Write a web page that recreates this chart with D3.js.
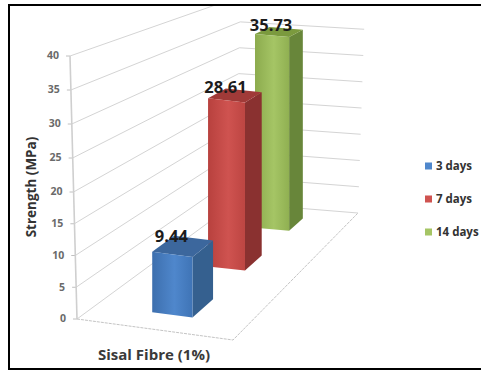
<!DOCTYPE html>
<html>
<head>
<meta charset="utf-8">
<style>
html,body{margin:0;padding:0;background:#fff}
svg{display:block;font-family:"Open Sans",Lato,sans-serif}
</style>
<script src="https://cdn.jsdelivr.net/npm/d3@7"></script>
</head>
<body>
<svg id="chart" width="481" height="372"></svg>
<script>
// Chart values
const seriesNames = ["3 days", "7 days", "14 days"];
const seriesValues = [9.44, 28.61, 35.73];
const categoryLabel = "Sisal Fibre (1%)";
const valueTitle = "Strength (MPa)";
const valueTicks = [0, 5, 10, 15, 20, 25, 30, 35, 40];

// Series colours: front face, side face, top face
const frontColors = [["#3d6fae", "#4f87cc", "#3f74b6"], ["#b8413e", "#cf5350", "#bd4542"], ["#8cab4e", "#a5c565", "#90b052"]];
const sideColors = ["#35608f", "#8a3130", "#68863a"];
const topColors = ["#3c679d", "#a03a38", "#7b9a3e"];

const svg = d3.select("#chart");

// Floor of the 3D box: u runs along the front edge, d runs into the depth
const floorX = (u, d) => d3.scaleLinear().domain([0, 1]).range([
  d3.scaleLinear().domain([0, 1]).range([77, 235])(d),
  d3.scaleLinear().domain([0, 1]).range([233, 358])(d)])(u);
const floorY = (u, d) => d3.scaleLinear().domain([0, 1]).range([
  d3.scaleLinear().domain([0, 1]).range([319, 203])(d),
  d3.scaleLinear().domain([0, 1]).range([340, 213])(d)])(u);
const unitHeight = d3.scaleLinear().domain([0, 1]).range([6.575, 5.18]);

// Wall scales: front-left edge, back corner and back-right edge
const leftY = d3.scaleLinear().domain([0, 20, 40]).range([319, 192, 56]);
const leftX = d3.scaleLinear().domain([0, 40]).range([77, 70]);
const cornerY = d3.scaleLinear().domain([0, 40]).range([203, -4]);
const cornerX = d3.scaleLinear().domain([0, 40]).range([235, 241]);
const rightY = d3.scaleLinear().domain([0, 40]).range([213, 3]);
const rightX = d3.scaleLinear().domain([0, 40]).range([358, 365]);

// Bar footprint in floor coordinates
const barU = [0.37, 0.635];
const depthStart = d3.scaleOrdinal().domain(seriesNames).range([0.12, 0.503, 0.825]);
const depthEnd = d3.scaleOrdinal().domain(seriesNames).range([0.27, 0.625, 0.925]);

const defs = svg.append("defs");
defs.append("clipPath").attr("id", "plot").append("rect")
  .attr("x", 9).attr("y", 6).attr("width", 472).attr("height", 362);

seriesNames.forEach((name, i) => {
  const g = defs.append("linearGradient").attr("id", "front" + i);
  frontColors[i].forEach((c, k) => g.append("stop").attr("offset", [0, 0.55, 1][k]).attr("stop-color", c));
});

// Walls and floor
const grid = svg.append("g").attr("clip-path", "url(#plot)")
  .attr("fill", "none").attr("stroke", "#d4d4d4").attr("stroke-width", 1);
const line = d3.line();
grid.selectAll("path.wall").data(valueTicks).join("path").attr("class", "wall")
  .attr("d", v => line([[leftX(v), leftY(v)], [cornerX(v), cornerY(v)], [rightX(v), rightY(v)]]));
grid.append("path").attr("stroke", "#c4c4c4").attr("stroke-dasharray", "3 1")
  .attr("d", line([[leftX(0), leftY(0)], [floorX(1, 0), floorY(1, 0)], [rightX(0), rightY(0)]]));

// Value axis, each tick shifted to follow the leaning front edge
const axis = svg.append("g")
  .call(d3.axisLeft(leftY).tickValues(valueTicks).tickSize(4).tickPadding(7).tickSizeOuter(0));
axis.select(".domain").remove();
axis.selectAll(".tick").attr("transform", v => `translate(${leftX(v)},${leftY(v)})`);
axis.selectAll(".tick line").attr("stroke", "#c0c0c0");
axis.selectAll(".tick text").attr("fill", "#6a6a6a").attr("font-size", 10.5).attr("font-weight", 700)
  .attr("font-family", "'Open Sans',sans-serif");
svg.append("line").attr("x1", leftX(0)).attr("y1", leftY(0)).attr("x2", leftX(40)).attr("y2", leftY(40))
  .attr("stroke", "#cfcfcf").attr("stroke-width", 1.6);

// Bars, back to front
const bars = seriesNames.map((name, i) => ({ name, value: seriesValues[i], i })).reverse();
const barG = svg.selectAll("g.bar").data(bars).join("g").attr("class", "bar");

const corner = (u, d, v) => [floorX(u, d), floorY(u, d) - unitHeight(d) * v];
const poly = pts => line(pts) + "Z";

barG.append("path").attr("fill", b => sideColors[b.i]).attr("d", b => {
  const d0 = depthStart(b.name), d1 = depthEnd(b.name);
  return poly([corner(barU[1], d0, 0), corner(barU[1], d1, 0), corner(barU[1], d1, b.value), corner(barU[1], d0, b.value)]);
});
barG.append("path").attr("fill", b => topColors[b.i]).attr("d", b => {
  const d0 = depthStart(b.name), d1 = depthEnd(b.name);
  return poly([corner(barU[0], d0, b.value), corner(barU[1], d0, b.value), corner(barU[1], d1, b.value), corner(barU[0], d1, b.value)]);
});
barG.append("path").attr("fill", b => `url(#front${b.i})`).attr("d", b => {
  const d0 = depthStart(b.name);
  return poly([corner(barU[0], d0, 0), corner(barU[1], d0, 0), corner(barU[1], d0, b.value), corner(barU[0], d0, b.value)]);
});
barG.append("text").attr("text-anchor", "middle").attr("font-size", 16.5).attr("font-weight", 700).attr("fill", "#1c1c1c")
  .attr("x", b => (corner(barU[0], depthStart(b.name), 0)[0] + corner(barU[1], depthStart(b.name), 0)[0]) / 2 - 1)
  .attr("y", b => corner(barU[1], depthEnd(b.name), b.value)[1] + 1)
  .text(b => b.value.toFixed(2));

// Axis titles
svg.append("text").attr("transform", "translate(36,187) rotate(-90)").attr("text-anchor", "middle")
  .attr("font-size", 13.5).attr("font-weight", 700).attr("fill", "#333").text(valueTitle);
svg.append("text").attr("x", 154).attr("y", 360).attr("text-anchor", "middle")
  .attr("font-size", 15).attr("font-weight", 700).attr("fill", "#3a3a3a").text(categoryLabel);

// Legend
const legendY = d3.scalePoint().domain(seriesNames).range([166, 232]);
const legend = svg.selectAll("g.legend").data(seriesNames).join("g").attr("class", "legend")
  .attr("transform", n => `translate(425,${legendY(n)})`);
legend.append("rect").attr("x", 0).attr("y", -3.5).attr("width", 7).attr("height", 7)
  .attr("fill", (n, i) => frontColors[i][1]);
legend.append("text").attr("x", 11).attr("y", 3.5).attr("font-size", 11.5).attr("font-weight", 700)
  .attr("fill", "#333").text(n => n);

// Picture frame, open on the right
svg.append("path").attr("fill", "none").attr("stroke", "#000").attr("stroke-width", 2)
  .attr("d", line([[481, 5], [9, 5], [9, 369], [481, 369]]));
</script>
</body>
</html>
